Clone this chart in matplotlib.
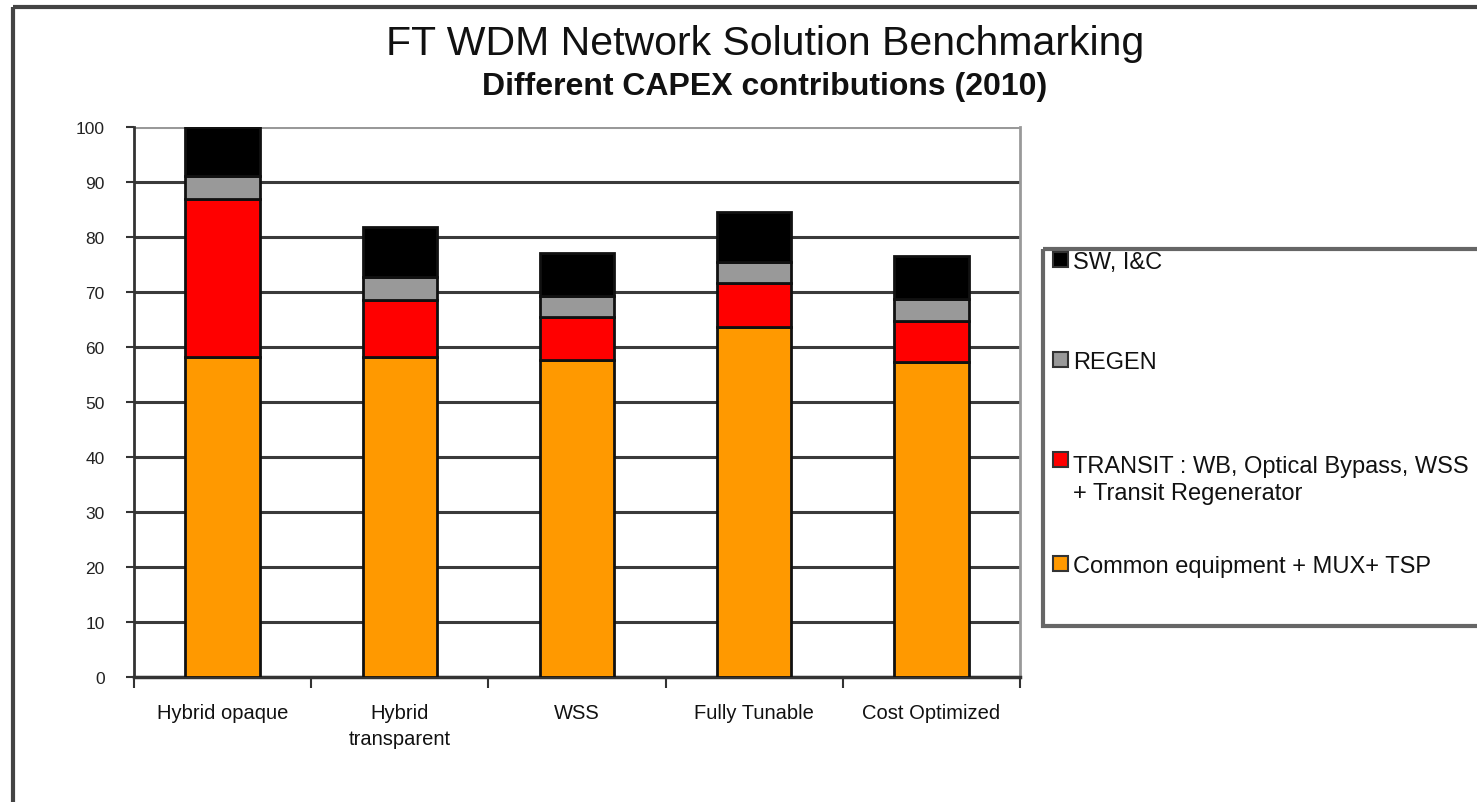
import matplotlib
matplotlib.use("Agg")
import matplotlib.pyplot as plt
from matplotlib.patches import Rectangle
import numpy as np

categories = ["Hybrid opaque", "Hybrid\ntransparent", "WSS", "Fully Tunable", "Cost Optimized"]
common = [58.2, 58.1, 57.6, 63.7, 57.2]
transit = [28.7, 10.4, 7.8, 7.9, 7.5]
regen = [4.2, 4.2, 3.9, 3.8, 4.1]
sw = [8.9, 9.1, 7.7, 9.1, 7.8]

series_names = ["Common equipment + MUX+ TSP",
                "TRANSIT : WB, Optical Bypass, WSS\n+ Transit Regenerator",
                "REGEN", "SW, I&C"]
series_values = [common, transit, regen, sw]
series_colors = ["#FF9900", "#FF0000", "#999999", "#000000"]

plt.rcParams['font.family'] = ['Liberation Sans', 'DejaVu Sans']

W, H = 1477, 803
fig = plt.figure(figsize=(W / 100, H / 100), dpi=100)
fig.patch.set_facecolor("white")

# overlay in pixel coordinates for frame, titles and legend
ov = fig.add_axes([0, 0, 1, 1], zorder=-1)
ov.set_xlim(0, W)
ov.set_ylim(H, 0)
ov.axis("off")
ov.add_patch(Rectangle((13, 8), W + 50, H + 50, fill=False, edgecolor="#444444", linewidth=3))

ax = fig.add_axes([134 / W, 1 - 678 / H, (1020 - 134) / W, (678 - 128) / H])
x = np.arange(len(categories))
bottom = np.zeros(len(categories))
for name, vals, color in zip(series_names, series_values, series_colors):
    ax.bar(x, vals, bottom=bottom, width=0.42, color=color, edgecolor="#111111",
           linewidth=2, zorder=3, label=name)
    bottom += np.array(vals)

ax.set_xlim(-0.5, len(categories) - 0.5)
ax.set_ylim(0, 100)
ax.set_yticks(np.arange(0, 101, 10))
ax.yaxis.grid(True, color="#3a3a3a", linewidth=2.2, zorder=0)
ax.get_ygridlines()[-1].set_color("#999999")
ax.set_axisbelow(True)
ax.tick_params(axis='y', labelsize=12.5, length=6, width=1.5, color="#333333", pad=15,
               labelcolor="#222222")
ax.set_xticks(x)
ax.set_xticklabels(categories, fontsize=14.5, linespacing=1.45, color="#111111")
ax.tick_params(axis='x', length=0, pad=19)
ax.set_xticks(np.arange(-0.5, len(categories), 1), minor=True)
ax.tick_params(axis='x', which='minor', length=8, width=1.5, color="#333333")

ax.spines['top'].set_visible(False)
ax.spines['left'].set_color("#333333")
ax.spines['left'].set_linewidth(2)
ax.spines['bottom'].set_color("#333333")
ax.spines['bottom'].set_linewidth(2.5)
ax.spines['right'].set_color("#999999")
ax.spines['right'].set_linewidth(2)

ov.text(765, 55, "FT WDM Network Solution Benchmarking", ha="center", va="baseline",
        fontsize=29.5, color="#111111")
ov.text(765, 95, "Different CAPEX contributions (2010)", ha="center", va="baseline",
        fontsize=23, fontweight="bold", color="#111111")

# legend
leg_fs = 17
leg_ls = 1.3
line_px = leg_ls * leg_fs * 100 / 72
ov.add_patch(Rectangle((1043, 250), 600, 377, fill=False, edgecolor="#666666", linewidth=3))
legend_first_baselines = [269, 369, 469, 573]
for name, color, yb in zip(series_names[::-1], series_colors[::-1], legend_first_baselines):
    nlines = name.count("\n") + 1
    ov.add_patch(Rectangle((1053, yb - 16), 15, 15, facecolor=color, edgecolor="#333333",
                           linewidth=1.5))
    ov.text(1073, yb + (nlines - 1) * line_px, name, ha="left", va="baseline",
            fontsize=leg_fs, color="#111111", linespacing=leg_ls)

fig.savefig("out.png", dpi=100, facecolor="white")
